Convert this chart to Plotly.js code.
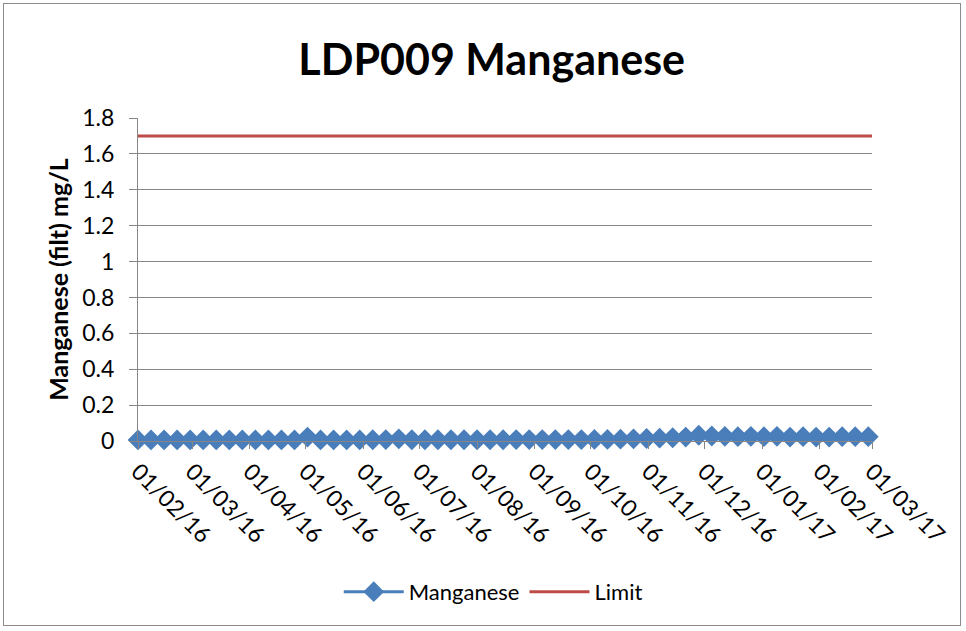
<!DOCTYPE html>
<html>
<head>
<meta charset="utf-8">
<script src="https://cdn.plot.ly/plotly-3.0.1.min.js"></script>
<style>
  html, body { margin: 0; padding: 0; background: #fff; }
  #wrap { position: absolute; left: 3px; top: 3px; width: 958px; height: 623px; border: 1px solid #8c8c8c; box-sizing: border-box; }
  #chart { position: absolute; left: -4px; top: -4px; width: 966px; height: 631px; }
</style>
</head>
<body>
<div id="wrap"><div id="chart"></div></div>
<script>
// Weekly sampling dates
const sampleDates = [
  "2016-02-01","2016-02-08","2016-02-15","2016-02-22","2016-02-29","2016-03-07","2016-03-14","2016-03-21",
  "2016-03-28","2016-04-04","2016-04-11","2016-04-18","2016-04-25","2016-05-02","2016-05-09","2016-05-16",
  "2016-05-23","2016-05-30","2016-06-06","2016-06-13","2016-06-20","2016-06-27","2016-07-04","2016-07-11",
  "2016-07-18","2016-07-25","2016-08-01","2016-08-08","2016-08-15","2016-08-22","2016-08-29","2016-09-05",
  "2016-09-12","2016-09-19","2016-09-26","2016-10-03","2016-10-10","2016-10-17","2016-10-24","2016-10-31",
  "2016-11-07","2016-11-14","2016-11-21","2016-11-28","2016-12-05","2016-12-12","2016-12-19","2016-12-26",
  "2017-01-02","2017-01-09","2017-01-16","2017-01-23","2017-01-30","2017-02-06","2017-02-13","2017-02-20",
  "2017-02-27"
];
const manganese = [
  0.006,0.006,0.006,0.006,0.006,0.006,0.006,0.006,
  0.006,0.006,0.006,0.006,0.006,0.022,0.006,0.006,
  0.006,0.006,0.007,0.008,0.012,0.007,0.007,0.007,
  0.007,0.007,0.007,0.007,0.007,0.008,0.008,0.008,
  0.008,0.008,0.008,0.009,0.009,0.010,0.012,0.014,
  0.016,0.018,0.022,0.032,0.028,0.026,0.024,0.026,
  0.024,0.026,0.022,0.024,0.022,0.022,0.024,0.024,
  0.024
];
const limitDates = ["2016-02-01","2017-03-01"];
const limitValues = [1.7, 1.7];
const tickDates = [
  "2016-02-01","2016-03-01","2016-04-01","2016-05-01","2016-06-01","2016-07-01","2016-08-01",
  "2016-09-01","2016-10-01","2016-11-01","2016-12-01","2017-01-01","2017-02-01","2017-03-01"
];
const tickLabels = [
  "01/02/16","01/03/16","01/04/16","01/05/16","01/06/16","01/07/16","01/08/16",
  "01/09/16","01/10/16","01/11/16","01/12/16","01/01/17","01/02/17","01/03/17"
];
const yTickVals = [0,0.2,0.4,0.6,0.8,1,1.2,1.4,1.6,1.8];
const yTickLabels = ["0","0.2","0.4","0.6","0.8","1","1.2","1.4","1.6","1.8"];

const FONT = "Lato, 'Open Sans', sans-serif";

const traces = [
  {
    x: sampleDates, y: manganese, name: "Manganese", type: "scatter", mode: "lines+markers",
    line: { color: "#4a7ebb", width: 3 },
    marker: { symbol: "diamond", size: 16, color: "#4a7ebb" },
    cliponaxis: false
  },
  {
    x: limitDates, y: limitValues, name: "Limit", type: "scatter", mode: "lines",
    line: { color: "#be4b48", width: 3 },
    cliponaxis: false
  }
];

const layout = {
  width: 966, height: 631,
  margin: { l: 138, r: 94, t: 118, b: 190 },
  paper_bgcolor: "rgba(0,0,0,0)", plot_bgcolor: "#fff",
  font: { family: FONT, color: "#000" },
  title: {
    text: "<b>LDP009 Manganese</b>",
    font: { family: FONT, size: 43, color: "#000" },
    x: 0.509, xanchor: "center", y: 0.905, yanchor: "middle"
  },
  xaxis: {
    type: "date",
    range: ["2016-02-01", "2017-03-01"],
    tickmode: "array", tickvals: tickDates, ticktext: tickLabels,
    tickangle: 45,
    tickfont: { size: 23, family: FONT, color: "#000" },
    ticks: "outside", ticklen: 7, tickcolor: "#868686", tickwidth: 1,
    showgrid: false, zeroline: false,
    showline: true, linecolor: "#868686", linewidth: 1,
    fixedrange: true
  },
  yaxis: {
    range: [0, 1.8],
    tickmode: "array", tickvals: yTickVals, ticktext: yTickLabels,
    tickfont: { size: 23, family: FONT, color: "#000" },
    ticks: "outside", ticklen: 8, tickcolor: "#868686", tickwidth: 1,
    ticklabelstandoff: 10,
    showgrid: true, gridcolor: "#868686", gridwidth: 1,
    zeroline: false, showline: true, linecolor: "#868686", linewidth: 1,
    title: { text: "<b>Manganese (filt) mg/L</b>", font: { size: 25, family: FONT, color: "#000" }, standoff: 6 },
    fixedrange: true
  },
  showlegend: true,
  legend: {
    orientation: "h", x: 0.484, xanchor: "center", y: -0.467, yanchor: "middle",
    font: { size: 22, family: FONT, color: "#000" },
    itemwidth: 60, tracegroupgap: 0
  }
};

Plotly.newPlot("chart", traces, layout, { displayModeBar: false, staticPlot: true });
</script>
</body>
</html>
